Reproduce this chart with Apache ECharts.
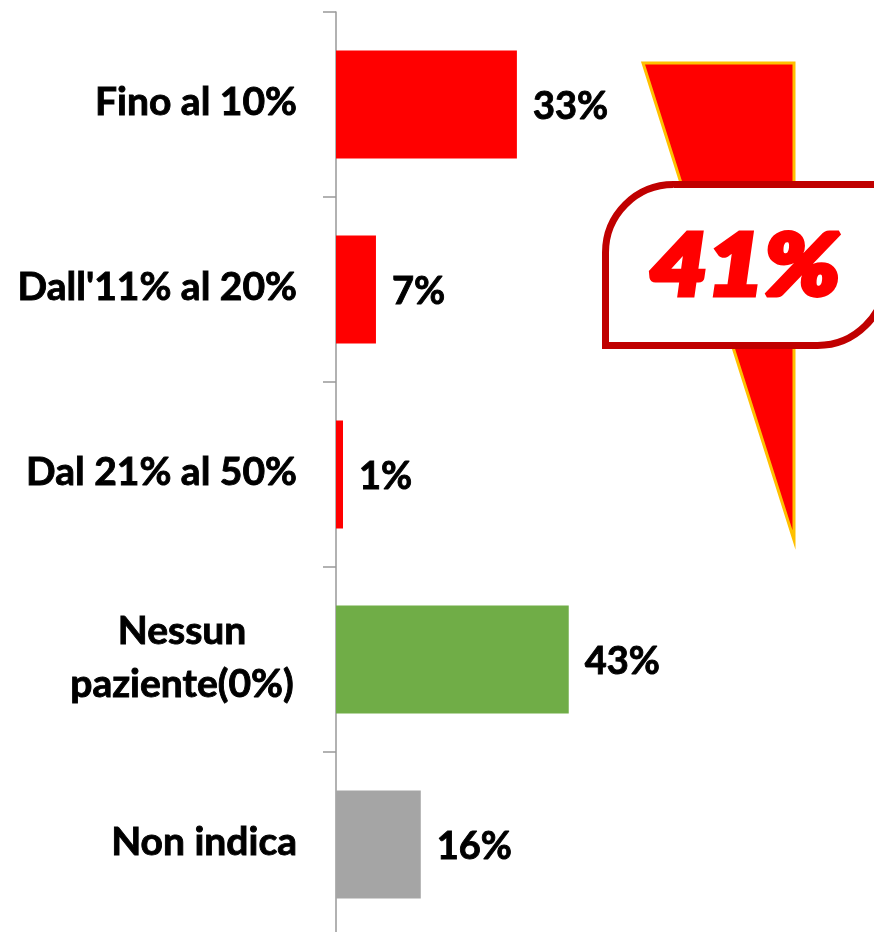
<!DOCTYPE html>
<html><head><meta charset="utf-8">
<style>html,body{margin:0;padding:0;background:#fff}#c{width:874px;height:932px}</style>
<script src="https://cdn.jsdelivr.net/npm/echarts@6/dist/echarts.min.js"></script>
</head><body><div id="c"></div>
<script>
const categories = ['Fino al 10%', "Dall'11% al 20%", 'Dal 21% al 50%', 'Nessun\npaziente(0%)', 'Non indica'];
const values = [33.5, 7.4, 1.3, 43.1, 15.7];
const valueLabels = ['33%', '7%', '1%', '43%', '16%'];
const barColors = ['#FF0000', '#FF0000', '#FF0000', '#70AD47', '#A5A5A5'];
const calloutText = '41%';
const FONT = 'Lato';
const chart = echarts.init(document.getElementById('c'), null, {renderer: 'canvas'});
const heavy = {color: '#000', fontFamily: FONT, fontWeight: 'bold', textBorderColor: '#000', textBorderWidth: 0.9};
chart.setOption({
  animation: false,
  backgroundColor: '#fff',
  grid: {left: 336, top: 12, width: 540, height: 925, containLabel: false, outerBoundsMode: 'none'},
  xAxis: {type: 'value', min: 0, max: 100, show: false},
  yAxis: {
    type: 'category', data: categories, inverse: true,
    axisLine: {show: true, lineStyle: {color: '#999999', width: 1.5}},
    axisTick: {show: true, length: 13, lineStyle: {color: '#999999', width: 1.5}},
    axisLabel: {
      ...heavy, margin: 39, fontSize: 39, lineHeight: 53,
      padding: [0, 0, 4, 0],
      formatter: v => v.includes('\n') ? v.split('\n').map(s => '{c|' + s + '}').join('\n') : v,
      rich: {c: {...heavy, width: 230, align: 'center', fontSize: 39, lineHeight: 53}}
    }
  },
  series: [{
    type: 'bar', barWidth: 108, silent: true,
    data: values.map((v, i) => ({value: v, itemStyle: {color: barColors[i]}})),
    label: {
      ...heavy, show: true, position: 'right', distance: 16, offset: [0, 2], fontSize: 38,
      formatter: p => valueLabels[p.dataIndex]
    }
  }],
  graphic: [
    {type: 'polygon', z: 10, shape: {points: [[643, 63], [794, 63], [794, 540]]},
     style: {fill: '#FF0000', stroke: '#FFC000', lineWidth: 3}},
    {type: 'rect', z: 11, shape: {x: 605.5, y: 184.5, width: 280, height: 161, r: [68, 0, 68, 0]},
     style: {fill: '#fff', stroke: '#C00000', lineWidth: 7}},
    {type: 'text', z: 12, x: 745, y: 268, scaleX: 1.16,
     style: {text: calloutText, fill: '#FF0000', stroke: '#FF0000', lineWidth: 5, align: 'center', verticalAlign: 'middle',
       font: 'italic 900 85px Lato'}}
  ]
});
</script></body></html>
